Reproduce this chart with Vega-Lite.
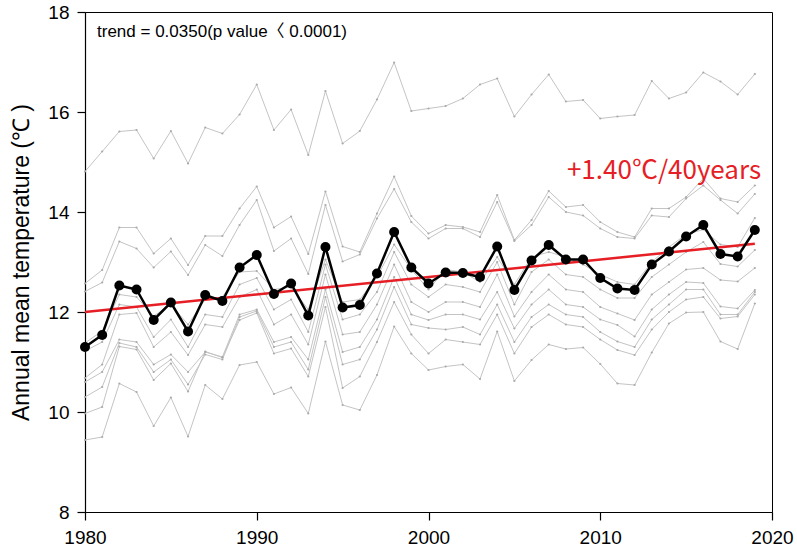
{
"$schema":"https://vega.github.io/schema/vega-lite/v6.json",
"width":687,"height":500,
"autosize":{"type":"none"},
"padding":{"left":85,"top":12,"right":25,"bottom":41},
"background":"white",
"datasets":{
"gray":[
{"s":"S1","x":1980,"t":14.81},{"s":"S1","x":1981,"t":15.21},{"s":"S1","x":1982,"t":15.61},{"s":"S1","x":1983,"t":15.64},{"s":"S1","x":1984,"t":15.07},{"s":"S1","x":1985,"t":15.62},{"s":"S1","x":1986,"t":14.97},{"s":"S1","x":1987,"t":15.69},{"s":"S1","x":1988,"t":15.57},{"s":"S1","x":1989,"t":15.95},{"s":"S1","x":1990,"t":16.55},{"s":"S1","x":1991,"t":15.64},{"s":"S1","x":1992,"t":16.05},{"s":"S1","x":1993,"t":15.14},{"s":"S1","x":1994,"t":16.42},{"s":"S1","x":1995,"t":15.37},{"s":"S1","x":1996,"t":15.62},{"s":"S1","x":1997,"t":16.25},{"s":"S1","x":1998,"t":16.99},{"s":"S1","x":1999,"t":16.02},{"s":"S1","x":2000,"t":16.07},{"s":"S1","x":2001,"t":16.12},{"s":"S1","x":2002,"t":16.27},{"s":"S1","x":2003,"t":16.55},{"s":"S1","x":2004,"t":16.67},{"s":"S1","x":2005,"t":15.91},{"s":"S1","x":2006,"t":16.35},{"s":"S1","x":2007,"t":16.75},{"s":"S1","x":2008,"t":16.21},{"s":"S1","x":2009,"t":16.24},{"s":"S1","x":2010,"t":15.87},{"s":"S1","x":2011,"t":15.91},{"s":"S1","x":2012,"t":15.94},{"s":"S1","x":2013,"t":16.62},{"s":"S1","x":2014,"t":16.27},{"s":"S1","x":2015,"t":16.39},{"s":"S1","x":2016,"t":16.79},{"s":"S1","x":2017,"t":16.61},{"s":"S1","x":2018,"t":16.35},{"s":"S1","x":2019,"t":16.76},
{"s":"S2","x":1980,"t":12.57},{"s":"S2","x":1981,"t":12.84},{"s":"S2","x":1982,"t":13.69},{"s":"S2","x":1983,"t":13.69},{"s":"S2","x":1984,"t":13.17},{"s":"S2","x":1985,"t":13.47},{"s":"S2","x":1986,"t":12.94},{"s":"S2","x":1987,"t":13.52},{"s":"S2","x":1988,"t":13.52},{"s":"S2","x":1989,"t":14.07},{"s":"S2","x":1990,"t":14.51},{"s":"S2","x":1991,"t":13.69},{"s":"S2","x":1992,"t":13.91},{"s":"S2","x":1993,"t":13.16},{"s":"S2","x":1994,"t":14.41},{"s":"S2","x":1995,"t":13.31},{"s":"S2","x":1996,"t":13.2},{"s":"S2","x":1997,"t":13.97},{"s":"S2","x":1998,"t":14.71},{"s":"S2","x":1999,"t":13.92},{"s":"S2","x":2000,"t":13.57},{"s":"S2","x":2001,"t":13.74},{"s":"S2","x":2002,"t":13.7},{"s":"S2","x":2003,"t":13.6},{"s":"S2","x":2004,"t":14.34},{"s":"S2","x":2005,"t":13.44},{"s":"S2","x":2006,"t":13.84},{"s":"S2","x":2007,"t":14.42},{"s":"S2","x":2008,"t":14.1},{"s":"S2","x":2009,"t":14.14},{"s":"S2","x":2010,"t":13.8},{"s":"S2","x":2011,"t":13.6},{"s":"S2","x":2012,"t":13.5},{"s":"S2","x":2013,"t":14.07},{"s":"S2","x":2014,"t":14.07},{"s":"S2","x":2015,"t":14.3},{"s":"S2","x":2016,"t":14.67},{"s":"S2","x":2017,"t":14.27},{"s":"S2","x":2018,"t":14.2},{"s":"S2","x":2019,"t":14.53},
{"s":"S3","x":1980,"t":12.41},{"s":"S3","x":1981,"t":12.59},{"s":"S3","x":1982,"t":13.41},{"s":"S3","x":1983,"t":13.27},{"s":"S3","x":1984,"t":12.89},{"s":"S3","x":1985,"t":13.21},{"s":"S3","x":1986,"t":12.74},{"s":"S3","x":1987,"t":13.34},{"s":"S3","x":1988,"t":13.12},{"s":"S3","x":1989,"t":13.74},{"s":"S3","x":1990,"t":14.24},{"s":"S3","x":1991,"t":13.22},{"s":"S3","x":1992,"t":13.47},{"s":"S3","x":1993,"t":12.76},{"s":"S3","x":1994,"t":14.14},{"s":"S3","x":1995,"t":13.01},{"s":"S3","x":1996,"t":13.15},{"s":"S3","x":1997,"t":13.87},{"s":"S3","x":1998,"t":14.46},{"s":"S3","x":1999,"t":13.8},{"s":"S3","x":2000,"t":13.47},{"s":"S3","x":2001,"t":13.67},{"s":"S3","x":2002,"t":13.67},{"s":"S3","x":2003,"t":13.5},{"s":"S3","x":2004,"t":14.2},{"s":"S3","x":2005,"t":13.42},{"s":"S3","x":2006,"t":13.74},{"s":"S3","x":2007,"t":14.3},{"s":"S3","x":2008,"t":14.0},{"s":"S3","x":2009,"t":13.93},{"s":"S3","x":2010,"t":13.67},{"s":"S3","x":2011,"t":13.5},{"s":"S3","x":2012,"t":13.47},{"s":"S3","x":2013,"t":13.93},{"s":"S3","x":2014,"t":13.9},{"s":"S3","x":2015,"t":14.27},{"s":"S3","x":2016,"t":14.53},{"s":"S3","x":2017,"t":14.24},{"s":"S3","x":2018,"t":13.97},{"s":"S3","x":2019,"t":14.36},
{"s":"G1","x":1980,"t":11.38},{"s":"G1","x":1981,"t":11.62},{"s":"G1","x":1982,"t":12.35},{"s":"G1","x":1983,"t":12.3},{"s":"G1","x":1984,"t":11.92},{"s":"G1","x":1985,"t":12.15},{"s":"G1","x":1986,"t":11.75},{"s":"G1","x":1987,"t":12.25},{"s":"G1","x":1988,"t":12.3},{"s":"G1","x":1989,"t":12.8},{"s":"G1","x":1990,"t":12.82},{"s":"G1","x":1991,"t":12.45},{"s":"G1","x":1992,"t":12.5},{"s":"G1","x":1993,"t":12.05},{"s":"G1","x":1994,"t":13.05},{"s":"G1","x":1995,"t":12.2},{"s":"G1","x":1996,"t":12.25},{"s":"G1","x":1997,"t":12.7},{"s":"G1","x":1998,"t":13.35},{"s":"G1","x":1999,"t":12.85},{"s":"G1","x":2000,"t":12.45},{"s":"G1","x":2001,"t":12.85},{"s":"G1","x":2002,"t":12.8},{"s":"G1","x":2003,"t":12.6},{"s":"G1","x":2004,"t":13.1},{"s":"G1","x":2005,"t":12.55},{"s":"G1","x":2006,"t":13.1},{"s":"G1","x":2007,"t":13.2},{"s":"G1","x":2008,"t":13.1},{"s":"G1","x":2009,"t":12.95},{"s":"G1","x":2010,"t":12.75},{"s":"G1","x":2011,"t":12.6},{"s":"G1","x":2012,"t":12.55},{"s":"G1","x":2013,"t":13.0},{"s":"G1","x":2014,"t":13.3},{"s":"G1","x":2015,"t":13.55},{"s":"G1","x":2016,"t":13.65},{"s":"G1","x":2017,"t":13.35},{"s":"G1","x":2018,"t":13.3},{"s":"G1","x":2019,"t":13.88},
{"s":"G2","x":1980,"t":11.22},{"s":"G2","x":1981,"t":11.4},{"s":"G2","x":1982,"t":12.15},{"s":"G2","x":1983,"t":12.1},{"s":"G2","x":1984,"t":11.5},{"s":"G2","x":1985,"t":11.85},{"s":"G2","x":1986,"t":11.3},{"s":"G2","x":1987,"t":11.95},{"s":"G2","x":1988,"t":11.9},{"s":"G2","x":1989,"t":12.55},{"s":"G2","x":1990,"t":12.68},{"s":"G2","x":1991,"t":12.05},{"s":"G2","x":1992,"t":12.25},{"s":"G2","x":1993,"t":11.6},{"s":"G2","x":1994,"t":12.95},{"s":"G2","x":1995,"t":11.85},{"s":"G2","x":1996,"t":11.95},{"s":"G2","x":1997,"t":12.4},{"s":"G2","x":1998,"t":13.2},{"s":"G2","x":1999,"t":12.55},{"s":"G2","x":2000,"t":12.3},{"s":"G2","x":2001,"t":12.55},{"s":"G2","x":2002,"t":12.5},{"s":"G2","x":2003,"t":12.4},{"s":"G2","x":2004,"t":13.0},{"s":"G2","x":2005,"t":12.15},{"s":"G2","x":2006,"t":12.8},{"s":"G2","x":2007,"t":13.05},{"s":"G2","x":2008,"t":12.75},{"s":"G2","x":2009,"t":12.7},{"s":"G2","x":2010,"t":12.45},{"s":"G2","x":2011,"t":12.28},{"s":"G2","x":2012,"t":12.28},{"s":"G2","x":2013,"t":12.7},{"s":"G2","x":2014,"t":12.95},{"s":"G2","x":2015,"t":13.2},{"s":"G2","x":2016,"t":13.4},{"s":"G2","x":2017,"t":12.96},{"s":"G2","x":2018,"t":12.91},{"s":"G2","x":2019,"t":13.24},
{"s":"G3","x":1980,"t":10.68},{"s":"G3","x":1981,"t":10.95},{"s":"G3","x":1982,"t":11.95},{"s":"G3","x":1983,"t":11.98},{"s":"G3","x":1984,"t":11.3},{"s":"G3","x":1985,"t":11.6},{"s":"G3","x":1986,"t":11.14},{"s":"G3","x":1987,"t":11.75},{"s":"G3","x":1988,"t":11.7},{"s":"G3","x":1989,"t":12.3},{"s":"G3","x":1990,"t":12.45},{"s":"G3","x":1991,"t":11.75},{"s":"G3","x":1992,"t":11.95},{"s":"G3","x":1993,"t":11.35},{"s":"G3","x":1994,"t":12.75},{"s":"G3","x":1995,"t":11.55},{"s":"G3","x":1996,"t":11.6},{"s":"G3","x":1997,"t":12.15},{"s":"G3","x":1998,"t":12.95},{"s":"G3","x":1999,"t":12.2},{"s":"G3","x":2000,"t":12.0},{"s":"G3","x":2001,"t":12.2},{"s":"G3","x":2002,"t":12.2},{"s":"G3","x":2003,"t":12.1},{"s":"G3","x":2004,"t":12.75},{"s":"G3","x":2005,"t":11.91},{"s":"G3","x":2006,"t":12.4},{"s":"G3","x":2007,"t":12.75},{"s":"G3","x":2008,"t":12.45},{"s":"G3","x":2009,"t":12.4},{"s":"G3","x":2010,"t":12.1},{"s":"G3","x":2011,"t":11.97},{"s":"G3","x":2012,"t":11.84},{"s":"G3","x":2013,"t":12.35},{"s":"G3","x":2014,"t":12.6},{"s":"G3","x":2015,"t":12.85},{"s":"G3","x":2016,"t":12.88},{"s":"G3","x":2017,"t":12.64},{"s":"G3","x":2018,"t":12.61},{"s":"G3","x":2019,"t":12.88},
{"s":"G4","x":1980,"t":10.6},{"s":"G4","x":1981,"t":10.8},{"s":"G4","x":1982,"t":11.45},{"s":"G4","x":1983,"t":11.4},{"s":"G4","x":1984,"t":10.95},{"s":"G4","x":1985,"t":11.15},{"s":"G4","x":1986,"t":10.8},{"s":"G4","x":1987,"t":11.2},{"s":"G4","x":1988,"t":11.1},{"s":"G4","x":1989,"t":11.95},{"s":"G4","x":1990,"t":12.05},{"s":"G4","x":1991,"t":11.4},{"s":"G4","x":1992,"t":11.5},{"s":"G4","x":1993,"t":11.05},{"s":"G4","x":1994,"t":12.45},{"s":"G4","x":1995,"t":11.2},{"s":"G4","x":1996,"t":11.3},{"s":"G4","x":1997,"t":11.85},{"s":"G4","x":1998,"t":12.7},{"s":"G4","x":1999,"t":11.95},{"s":"G4","x":2000,"t":11.84},{"s":"G4","x":2001,"t":11.95},{"s":"G4","x":2002,"t":11.95},{"s":"G4","x":2003,"t":11.85},{"s":"G4","x":2004,"t":12.4},{"s":"G4","x":2005,"t":11.67},{"s":"G4","x":2006,"t":12.15},{"s":"G4","x":2007,"t":12.45},{"s":"G4","x":2008,"t":12.15},{"s":"G4","x":2009,"t":12.1},{"s":"G4","x":2010,"t":11.85},{"s":"G4","x":2011,"t":11.74},{"s":"G4","x":2012,"t":11.51},{"s":"G4","x":2013,"t":12.05},{"s":"G4","x":2014,"t":12.35},{"s":"G4","x":2015,"t":12.6},{"s":"G4","x":2016,"t":12.58},{"s":"G4","x":2017,"t":12.11},{"s":"G4","x":2018,"t":12.07},{"s":"G4","x":2019,"t":12.44},
{"s":"G6","x":1980,"t":10.3},{"s":"G6","x":1981,"t":10.5},{"s":"G6","x":1982,"t":11.38},{"s":"G6","x":1983,"t":11.3},{"s":"G6","x":1984,"t":10.8},{"s":"G6","x":1985,"t":11.05},{"s":"G6","x":1986,"t":10.55},{"s":"G6","x":1987,"t":11.15},{"s":"G6","x":1988,"t":11.05},{"s":"G6","x":1989,"t":11.9},{"s":"G6","x":1990,"t":12.02},{"s":"G6","x":1991,"t":11.3},{"s":"G6","x":1992,"t":11.4},{"s":"G6","x":1993,"t":10.85},{"s":"G6","x":1994,"t":12.3},{"s":"G6","x":1995,"t":10.95},{"s":"G6","x":1996,"t":11.05},{"s":"G6","x":1997,"t":11.65},{"s":"G6","x":1998,"t":12.5},{"s":"G6","x":1999,"t":11.75},{"s":"G6","x":2000,"t":11.68},{"s":"G6","x":2001,"t":11.65},{"s":"G6","x":2002,"t":11.7},{"s":"G6","x":2003,"t":11.55},{"s":"G6","x":2004,"t":12.15},{"s":"G6","x":2005,"t":11.4},{"s":"G6","x":2006,"t":11.9},{"s":"G6","x":2007,"t":12.15},{"s":"G6","x":2008,"t":11.95},{"s":"G6","x":2009,"t":11.9},{"s":"G6","x":2010,"t":11.6},{"s":"G6","x":2011,"t":11.41},{"s":"G6","x":2012,"t":11.3},{"s":"G6","x":2013,"t":11.85},{"s":"G6","x":2014,"t":12.15},{"s":"G6","x":2015,"t":12.45},{"s":"G6","x":2016,"t":12.45},{"s":"G6","x":2017,"t":11.95},{"s":"G6","x":2018,"t":11.95},{"s":"G6","x":2019,"t":12.4},
{"s":"G5","x":1980,"t":9.97},{"s":"G5","x":1981,"t":10.1},{"s":"G5","x":1982,"t":11.31},{"s":"G5","x":1983,"t":11.25},{"s":"G5","x":1984,"t":10.64},{"s":"G5","x":1985,"t":10.97},{"s":"G5","x":1986,"t":10.41},{"s":"G5","x":1987,"t":11.21},{"s":"G5","x":1988,"t":11.09},{"s":"G5","x":1989,"t":11.84},{"s":"G5","x":1990,"t":11.98},{"s":"G5","x":1991,"t":11.17},{"s":"G5","x":1992,"t":11.27},{"s":"G5","x":1993,"t":10.71},{"s":"G5","x":1994,"t":12.1},{"s":"G5","x":1995,"t":10.48},{"s":"G5","x":1996,"t":10.71},{"s":"G5","x":1997,"t":11.4},{"s":"G5","x":1998,"t":12.2},{"s":"G5","x":1999,"t":11.55},{"s":"G5","x":2000,"t":11.17},{"s":"G5","x":2001,"t":11.45},{"s":"G5","x":2002,"t":11.4},{"s":"G5","x":2003,"t":11.35},{"s":"G5","x":2004,"t":11.95},{"s":"G5","x":2005,"t":11.17},{"s":"G5","x":2006,"t":11.7},{"s":"G5","x":2007,"t":11.95},{"s":"G5","x":2008,"t":11.75},{"s":"G5","x":2009,"t":11.7},{"s":"G5","x":2010,"t":11.45},{"s":"G5","x":2011,"t":11.24},{"s":"G5","x":2012,"t":11.14},{"s":"G5","x":2013,"t":11.65},{"s":"G5","x":2014,"t":12.0},{"s":"G5","x":2015,"t":12.25},{"s":"G5","x":2016,"t":12.3},{"s":"G5","x":2017,"t":11.87},{"s":"G5","x":2018,"t":11.91},{"s":"G5","x":2019,"t":12.35},
{"s":"L1","x":1980,"t":9.44},{"s":"L1","x":1981,"t":9.5},{"s":"L1","x":1982,"t":10.57},{"s":"L1","x":1983,"t":10.4},{"s":"L1","x":1984,"t":9.72},{"s":"L1","x":1985,"t":10.29},{"s":"L1","x":1986,"t":9.51},{"s":"L1","x":1987,"t":10.54},{"s":"L1","x":1988,"t":10.26},{"s":"L1","x":1989,"t":10.94},{"s":"L1","x":1990,"t":11.0},{"s":"L1","x":1991,"t":10.36},{"s":"L1","x":1992,"t":10.49},{"s":"L1","x":1993,"t":9.97},{"s":"L1","x":1994,"t":11.41},{"s":"L1","x":1995,"t":10.14},{"s":"L1","x":1996,"t":10.04},{"s":"L1","x":1997,"t":10.74},{"s":"L1","x":1998,"t":11.71},{"s":"L1","x":1999,"t":11.17},{"s":"L1","x":2000,"t":10.84},{"s":"L1","x":2001,"t":10.91},{"s":"L1","x":2002,"t":10.95},{"s":"L1","x":2003,"t":10.66},{"s":"L1","x":2004,"t":11.61},{"s":"L1","x":2005,"t":10.62},{"s":"L1","x":2006,"t":11.04},{"s":"L1","x":2007,"t":11.35},{"s":"L1","x":2008,"t":11.26},{"s":"L1","x":2009,"t":11.29},{"s":"L1","x":2010,"t":10.96},{"s":"L1","x":2011,"t":10.57},{"s":"L1","x":2012,"t":10.54},{"s":"L1","x":2013,"t":11.19},{"s":"L1","x":2014,"t":11.77},{"s":"L1","x":2015,"t":11.99},{"s":"L1","x":2016,"t":12.0},{"s":"L1","x":2017,"t":11.41},{"s":"L1","x":2018,"t":11.26},{"s":"L1","x":2019,"t":12.17}
],
"mean":[
{"x":1980,"t":11.3},{"x":1981,"t":11.54},{"x":1982,"t":12.53},{"x":1983,"t":12.45},{"x":1984,"t":11.84},{"x":1985,"t":12.19},{"x":1986,"t":11.61},{"x":1987,"t":12.34},{"x":1988,"t":12.22},{"x":1989,"t":12.89},{"x":1990,"t":13.14},{"x":1991,"t":12.36},{"x":1992,"t":12.57},{"x":1993,"t":11.93},{"x":1994,"t":13.3},{"x":1995,"t":12.09},{"x":1996,"t":12.14},{"x":1997,"t":12.77},{"x":1998,"t":13.6},{"x":1999,"t":12.89},{"x":2000,"t":12.57},{"x":2001,"t":12.79},{"x":2002,"t":12.78},{"x":2003,"t":12.7},{"x":2004,"t":13.31},{"x":2005,"t":12.44},{"x":2006,"t":13.03},{"x":2007,"t":13.34},{"x":2008,"t":13.05},{"x":2009,"t":13.05},{"x":2010,"t":12.68},{"x":2011,"t":12.47},{"x":2012,"t":12.44},{"x":2013,"t":12.95},{"x":2014,"t":13.21},{"x":2015,"t":13.51},{"x":2016,"t":13.74},{"x":2017,"t":13.16},{"x":2018,"t":13.11},{"x":2019,"t":13.64}
],
"trend":[{"x":1980,"t":12.0},{"x":2019,"t":13.365}],
"label1":[{"x":1980.7,"t":17.6,"txt":"trend = 0.0350(p value〈 0.0001)"}],
"label2":[{"x":2008.06,"t":14.82,"txt":"+1.40℃/40years"}]
},
"layer":[
{"data":{"name":"gray"},
 "mark":{"type":"line","color":"#c4c4c4","strokeWidth":1,"point":{"filled":true,"size":5,"color":"#aaaaaa"}},
 "encoding":{
  "x":{"field":"x","type":"quantitative","scale":{"domain":[1980,2020],"nice":false,"zero":false},
       "axis":{"values":[1980,1990,2000,2010,2020],"format":"d","title":null,"tickSize":8,"labelPadding":8,"labelFlush":false}},
  "y":{"field":"t","type":"quantitative","scale":{"domain":[8,18],"nice":false,"zero":false},
       "axis":{"values":[8,10,12,14,16,18],"title":"Annual mean temperature (℃ )","tickSize":8,"labelPadding":8,"titlePadding":14,"labelFlush":false}},
  "detail":{"field":"s"}
 }},
{"data":{"name":"trend"},
 "mark":{"type":"line","color":"#e61e25","strokeWidth":2.5},
 "encoding":{"x":{"field":"x","type":"quantitative"},"y":{"field":"t","type":"quantitative"}}},
{"data":{"name":"mean"},
 "mark":{"type":"line","color":"black","strokeWidth":2.5,"point":{"filled":true,"size":100,"color":"black"}},
 "encoding":{"x":{"field":"x","type":"quantitative"},"y":{"field":"t","type":"quantitative"}}},
{"data":{"name":"label1"},
 "mark":{"type":"text","align":"left","baseline":"middle","fontSize":17,"font":"Liberation Sans, Noto Sans CJK KR","color":"black"},
 "encoding":{"x":{"field":"x","type":"quantitative"},"y":{"field":"t","type":"quantitative"},"text":{"field":"txt"}}},
{"data":{"name":"label2"},
 "mark":{"type":"text","align":"left","baseline":"middle","fontSize":26,"font":"Noto Sans CJK KR","color":"#e61e25"},
 "encoding":{"x":{"field":"x","type":"quantitative"},"y":{"field":"t","type":"quantitative"},"text":{"field":"txt"}}}
],
"config":{
 "view":{"stroke":"black","strokeWidth":1},
 "axis":{"grid":false,"domainColor":"black","domainWidth":1.2,"tickColor":"black","tickWidth":1.2,"labelColor":"black","titleColor":"black","labelFont":"Liberation Sans","titleFont":"Liberation Sans","labelFontSize":19,"titleFontSize":23,"titleFontWeight":"normal"}
}
}
